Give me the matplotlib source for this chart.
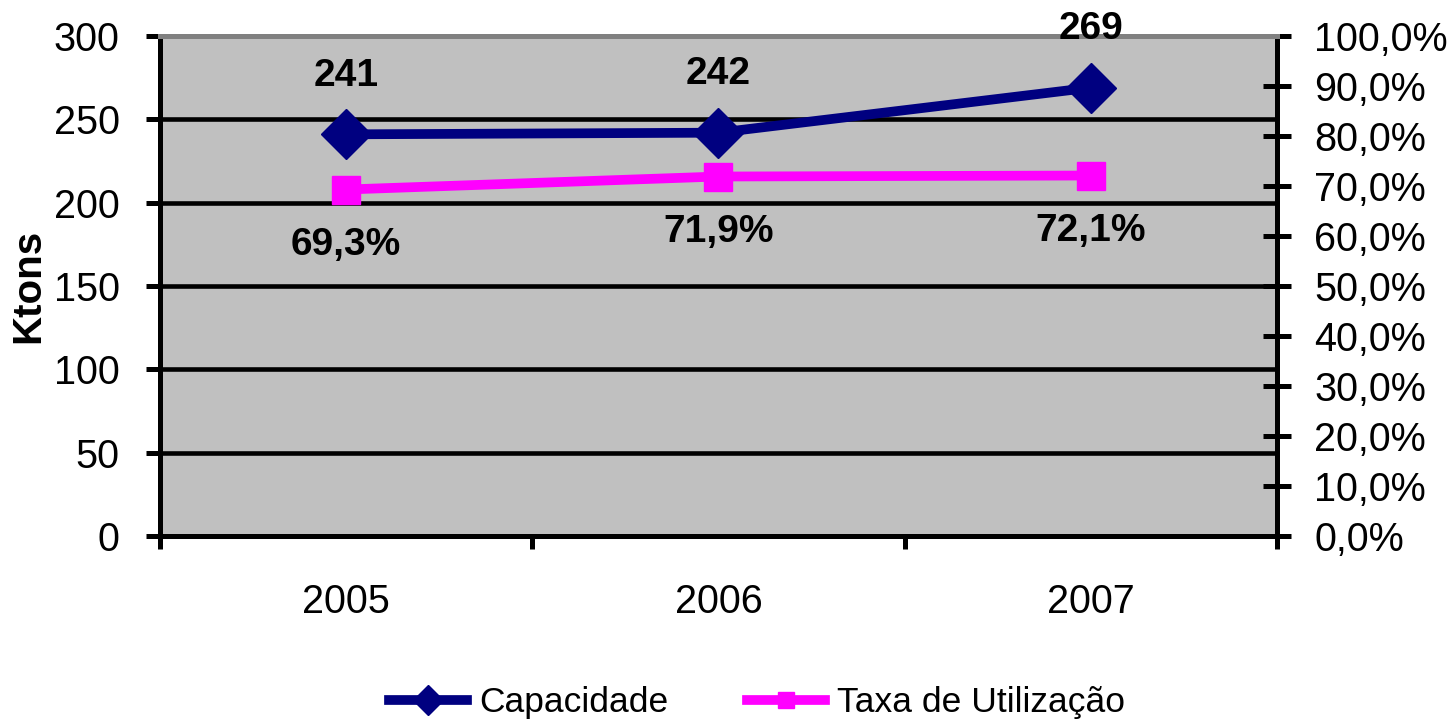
import matplotlib.pyplot as plt
from matplotlib.ticker import FixedLocator, FuncFormatter

plt.rcParams['font.family'] = ['Liberation Sans', 'DejaVu Sans']

anos = ['2005', '2006', '2007']
capacidade = [241, 242, 269]
taxa = [0.693, 0.719, 0.721]
cap_labels = ['241', '242', '269']
taxa_labels = ['69,3%', '71,9%', '72,1%']

fig = plt.figure(figsize=(14.56, 7.23), dpi=100)
ax = fig.add_axes([0.1099, 0.2586, 0.767, 0.6916])
ax2 = ax.twinx()

x = list(range(len(anos)))
ax.set_facecolor('#c0c0c0')
ax.set_xlim(-0.5, 2.5)
ax.set_ylim(0, 300)
ax2.set_ylim(0, 1)

# grid
for v in range(50, 300, 50):
    ax.axhline(v, color='black', lw=3.3, zorder=1)

l1, = ax.plot(x, capacidade, color='#000080', lw=7, marker='D', ms=25,
              label='Capacidade', zorder=5, clip_on=False)
l2, = ax2.plot(x, taxa, color='#ff00ff', lw=7, marker='s', ms=20,
               label='Taxa de Utilização', zorder=5, clip_on=False)
ax2.set_zorder(ax.get_zorder() + 1)
ax2.patch.set_visible(False)

for xi, v, t in zip(x, capacidade, cap_labels):
    ax2.annotate(t, (xi, v), xycoords=ax.transData, xytext=(0, 42),
                 textcoords='offset points', ha='center', va='center',
                 fontsize=28, fontweight='bold', zorder=10)
for xi, v, t in zip(x, taxa, taxa_labels):
    ax2.annotate(t, (xi, v), xytext=(0, -40), textcoords='offset points',
                 ha='center', va='center', fontsize=28, fontweight='bold', zorder=10)

# spines
for a in (ax, ax2):
    for s in ('left', 'right', 'bottom'):
        a.spines[s].set_linewidth(3.6)
        a.spines[s].set_color('black')
    a.spines['top'].set_color('#808080')
    a.spines['top'].set_linewidth(3.6)

ax.set_yticks(range(0, 301, 50))
ax.tick_params(axis='y', labelsize=28.5, length=10, width=3.6, direction='out', pad=19)
ax.set_ylabel('Ktons', fontsize=29, fontweight='bold')
ax.yaxis.set_label_coords(-0.101, 0.5)

ax.xaxis.set_major_locator(FixedLocator([-0.5, 0.5, 1.5, 2.5]))
ax.xaxis.set_minor_locator(FixedLocator(x))
ax.set_xticklabels([], minor=False)
ax.set_xticklabels(anos, minor=True)
ax.tick_params(axis='x', which='major', length=9, width=3.6, direction='out')
ax.tick_params(axis='x', which='minor', length=0, labelsize=28.5, pad=34)

ax2.set_yticks([i / 10 for i in range(11)])
ax2.yaxis.set_major_formatter(FuncFormatter(lambda v, p: f'{v*100:.1f}%'.replace('.', ',')))
ax2.tick_params(axis='y', labelsize=28.5, length=20, width=3.6, direction='inout', pad=17)

fig.legend(handles=[l1, l2], loc='center', bbox_to_anchor=(0.52, 0.028), ncol=2,
           frameon=False, fontsize=25.5, handlelength=2.2, columnspacing=2.2,
           handletextpad=0.35, markerscale=0.6)

fig.savefig('out.png', dpi=100)
